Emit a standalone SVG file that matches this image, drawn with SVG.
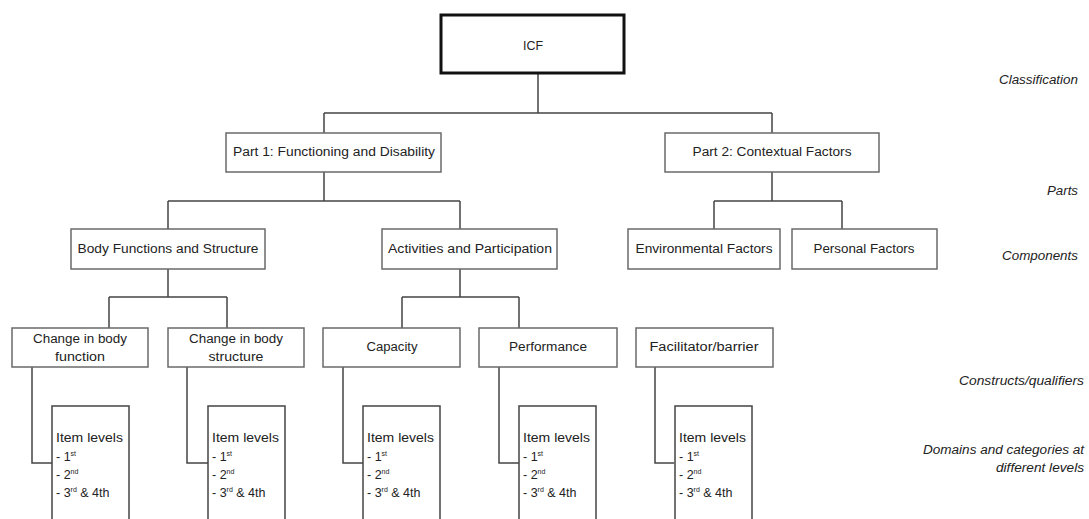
<svg xmlns="http://www.w3.org/2000/svg" width="1089" height="519" viewBox="0 0 1089 519">
<style>
text{font-family:"Liberation Sans",Arial,sans-serif;font-size:12.5px;fill:#222}
.box{fill:#fff;stroke:#6a6a6a;stroke-width:1.5}
.root{fill:#fff;stroke:#111;stroke-width:3}
.c{text-anchor:middle}
.lab{font-style:italic;text-anchor:end;font-size:12px}
.conn{fill:none;stroke:#444;stroke-width:1.5}
.sup{font-size:7px}
</style>
<rect width="1089" height="519" fill="#fff"/>
<g id="connectors">
<path class="conn" d="M538 74V113M324 113H772M324 113V133M772 113V133"/>
<path class="conn" d="M324 172V201M168 201H460M168 201V229M460 201V229"/>
<path class="conn" d="M772 172V201M714 201H842M714 201V229M842 201V229"/>
<path class="conn" d="M168 269V297M109 297H227M109 297V328M227 297V328"/>
<path class="conn" d="M460 269V297M402 297H519M402 297V328M519 297V328"/>
<path class="conn" d="M32 367V463H52M187 367V463H208M343 367V463H363M499 367V463H519M655 367V463H674"/>
</g>
<g id="icf"><rect class="root" x="441" y="15" width="183" height="58"/><text class="c" x="533" y="50" textLength="20" lengthAdjust="spacingAndGlyphs">ICF</text></g>
<g id="part1"><rect class="box" x="226" y="133" width="215" height="39"/><text class="c" x="334" y="156" textLength="202" lengthAdjust="spacingAndGlyphs">Part 1: Functioning and Disability</text></g>
<g id="part2"><rect class="box" x="665" y="133" width="214" height="39"/><text class="c" x="772" y="156" textLength="159" lengthAdjust="spacingAndGlyphs">Part 2: Contextual Factors</text></g>
<g id="bodyfs"><rect class="box" x="71" y="229" width="194" height="40"/><text class="c" x="168" y="253" textLength="181" lengthAdjust="spacingAndGlyphs">Body Functions and Structure</text></g>
<g id="actpart"><rect class="box" x="382" y="229" width="175" height="40"/><text class="c" x="470" y="253" textLength="164" lengthAdjust="spacingAndGlyphs">Activities and Participation</text></g>
<g id="envf"><rect class="box" x="628" y="229" width="152" height="40"/><text class="c" x="704" y="253" textLength="137" lengthAdjust="spacingAndGlyphs">Environmental Factors</text></g>
<g id="persf"><rect class="box" x="792" y="229" width="145" height="40"/><text class="c" x="864" y="253" textLength="101" lengthAdjust="spacingAndGlyphs">Personal Factors</text></g>
<g id="cbf"><rect class="box" x="12" y="328" width="136" height="39"/><text class="c" x="80" y="343" textLength="94" lengthAdjust="spacingAndGlyphs">Change in body</text><text class="c" x="80" y="361" textLength="50" lengthAdjust="spacingAndGlyphs">function</text></g>
<g id="cbs"><rect class="box" x="168" y="328" width="136" height="39"/><text class="c" x="236" y="343" textLength="94" lengthAdjust="spacingAndGlyphs">Change in body</text><text class="c" x="236" y="361" textLength="55" lengthAdjust="spacingAndGlyphs">structure</text></g>
<g id="cap"><rect class="box" x="323" y="328" width="137" height="39"/><text class="c" x="392" y="351" textLength="51" lengthAdjust="spacingAndGlyphs">Capacity</text></g>
<g id="perf"><rect class="box" x="479" y="328" width="138" height="39"/><text class="c" x="548" y="351" textLength="78" lengthAdjust="spacingAndGlyphs">Performance</text></g>
<g id="facil"><rect class="box" x="636" y="328" width="137" height="39"/><text class="c" x="704" y="351" textLength="109" lengthAdjust="spacingAndGlyphs">Facilitator/barrier</text></g>
<defs>
<g id="items">
<rect x="0" y="0" width="77" height="130" fill="#fff" stroke="#444" stroke-width="1.5"/>
<text x="4" y="36" textLength="67" lengthAdjust="spacingAndGlyphs">Item levels</text>
<text x="4" y="55">- 1<tspan class="sup" dy="-5">st</tspan></text>
<text x="4" y="73">- 2<tspan class="sup" dy="-5">nd</tspan></text>
<text x="4" y="91">- 3<tspan class="sup" dy="-5">rd</tspan><tspan dy="5"> &amp; 4th</tspan></text>
</g>
</defs>
<g id="items1"><use href="#items" x="52" y="406"/></g>
<g id="items2"><use href="#items" x="208" y="406"/></g>
<g id="items3"><use href="#items" x="363" y="406"/></g>
<g id="items4"><use href="#items" x="519" y="406"/></g>
<g id="items5"><use href="#items" x="675" y="406"/></g>
<g id="labels">
<text class="lab" x="1078" y="84" textLength="79" lengthAdjust="spacingAndGlyphs">Classification</text>
<text class="lab" x="1078" y="195" textLength="31" lengthAdjust="spacingAndGlyphs">Parts</text>
<text class="lab" x="1078" y="260" textLength="76" lengthAdjust="spacingAndGlyphs">Components</text>
<text class="lab" x="1084" y="385" textLength="125" lengthAdjust="spacingAndGlyphs">Constructs/qualifiers</text>
<text class="lab" x="1084" y="454" textLength="161" lengthAdjust="spacingAndGlyphs">Domains and categories at</text>
<text class="lab" x="1084" y="472" textLength="88" lengthAdjust="spacingAndGlyphs">different levels</text>
</g>
</svg>
